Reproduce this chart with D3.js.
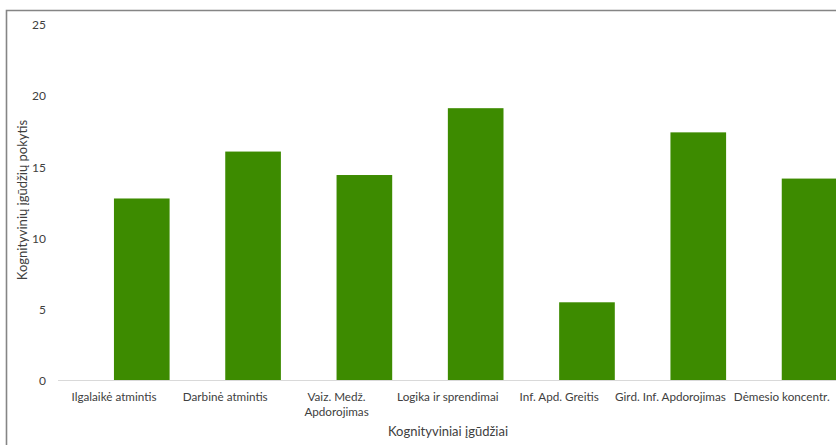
<!DOCTYPE html>
<html><head><meta charset="utf-8">
<script src="https://cdn.jsdelivr.net/npm/d3@7"></script>
<style>body{margin:0;background:#fff;} svg{display:block;font-family:Lato, "Open Sans", sans-serif;}</style>
</head><body>
<svg id="c" width="836" height="445"></svg>
<script>
const categories = ["Ilgalaikė atmintis","Darbinė atmintis","Vaiz. Medž.\nApdorojimas","Logika ir sprendimai","Inf. Apd. Greitis","Gird. Inf. Apdorojimas","Dėmesio koncentr."];
const values = [12.8, 16.1, 14.45, 19.15, 5.5, 17.45, 14.2];
const yTicks = [0, 5, 10, 15, 20, 25];
const xTitle = "Kognityviniai įgūdžiai";
const yTitle = "Kognityvinių įgūdžių pokytis";

const svg = d3.select("#c");
const x = d3.scaleBand().domain(categories).range([58.3, 837.4]).padding(0);
const y = d3.scaleLinear().domain([0, 25]).range([380.5, 25]);
const step = x.step();

// frame
svg.append("path").attr("d","M6.5,445 V10.5 H836").attr("fill","none").attr("stroke","#858585").attr("stroke-width",1.6);

// bars (second half of each category slot, as in the original clustered layout)
svg.append("g").selectAll("rect").data(values).join("rect")
  .attr("x",(d,i)=>x(categories[i]) + step/2).attr("width",step/2)
  .attr("y",d=>y(d)).attr("height",d=>y(0)-y(d)).attr("fill","#3d8b00");

// baseline
svg.append("line").attr("x1",58).attr("x2",836).attr("y1",y(0)).attr("y2",y(0)).attr("stroke","#d9d9d9").attr("stroke-width",1);

// y axis
const ya = svg.append("g").attr("transform","translate(46,0)").call(d3.axisLeft(y).tickValues(yTicks).tickSize(0).tickPadding(0));
ya.select(".domain").remove();
ya.selectAll("text").attr("font-size",12).attr("fill","#404040").attr("font-family","Lato, sans-serif");

// x axis
const xa = svg.append("g").attr("transform",`translate(0,${y(0)})`).call(d3.axisBottom(x).tickSize(0).tickPadding(0));
xa.select(".domain").remove();
xa.selectAll("text").each(function(d){
  const t = d3.select(this); const lines = d.split("\n");
  t.text(null).attr("font-size",11.7).attr("fill","#404040").attr("font-family","Lato, sans-serif").attr("y",0).attr("dy",null);
  lines.forEach((l,i)=>t.append("tspan").attr("x",0).attr("y",20+i*15).text(l));
});

// titles
svg.append("text").attr("x",448).attr("y",436).attr("text-anchor","middle").attr("font-size",13).attr("fill","#404040").text(xTitle);
svg.append("text").attr("transform","translate(27,200) rotate(-90)").attr("text-anchor","middle").attr("font-size",13).attr("fill","#404040").text(yTitle);
</script>
</body></html>
